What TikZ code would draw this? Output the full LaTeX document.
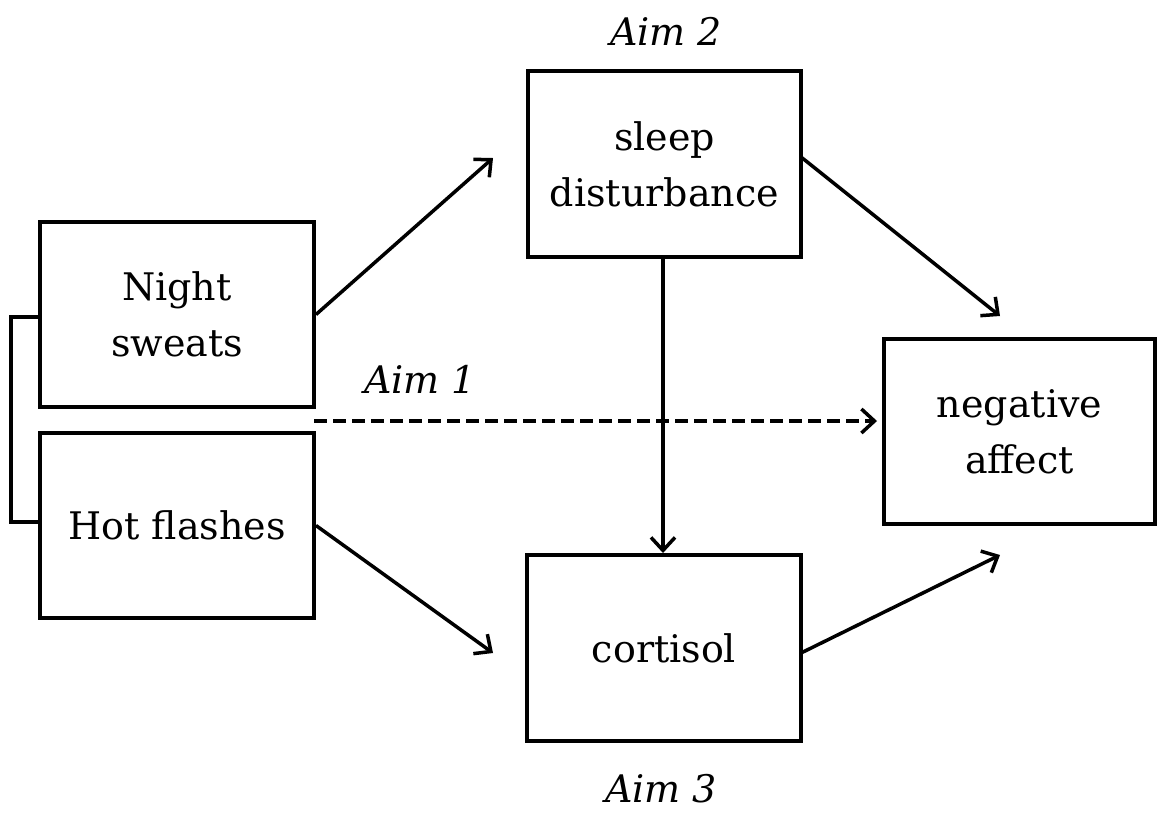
\documentclass[tikz,border=0pt]{standalone}
\usepackage{fontspec}
\setmainfont{DejaVu Serif}
\usetikzlibrary{arrows.meta}
\begin{document}
\begin{tikzpicture}[x=1pt,y=-1pt,
  box/.style={draw, line width=4pt, rectangle, minimum width=274pt,
    minimum height=185pt, align=center, inner sep=0pt,
    font=\fontsize{38}{56}\selectfont},
  link/.style={line width=3.5pt, -{Straight Barb[length=13pt,width=24pt]}},
  aim/.style={anchor=base, inner sep=0pt, font=\fontsize{38}{46}\selectfont\itshape}]
\useasboundingbox (0,0) rectangle (1158,812);

% boxes
\node[box] (ns) at (177,314.5) {Night\\sweats};
\node[box] (hf) at (177,525.5) {Hot flashes};
\node[box, minimum width=273pt, minimum height=186pt] (sd) at (664.5,164) {sleep\\disturbance};
\node[box, minimum height=186pt] (co) at (664,648) {cortisol};
\node[box, minimum width=271pt] (na) at (1019.5,431.5) {negative\\affect};

% aim labels
\node[aim] (aim2) at (666,45) {Aim 2};
\node[aim] (aim1) at (420,393) {Aim 1};
\node[aim] (aim3) at (661,802) {Aim 3};

% arrow end points
\coordinate (t1) at (493,158);
\coordinate (s2) at (801,157);
\coordinate (t2) at (1000,316);
\coordinate (t3) at (493,653);
\coordinate (s4) at (801,653);
\coordinate (t4) at (1000,555);
\coordinate (s5) at (314,421);
\coordinate (t5) at (877,421);

% bracket joining the two symptom boxes
\draw[line width=4pt, line join=miter] (ns.west) ++(0,2.5) -- ++(-27,0) |- ([yshift=3.5pt]hf.west);

% connectors
\draw[link] (ns.east) -- (t1);
\draw[link] (s2) -- (t2);
\draw[link] (hf.east) -- (t3);
\draw[link] (s4) -- (t4);
\draw[link] (sd.south -| 663,0) -- (co.north -| 663,0);
\draw[link, dash pattern=on 13pt off 6pt] (s5) -- (t5);
\end{tikzpicture}
\end{document}
